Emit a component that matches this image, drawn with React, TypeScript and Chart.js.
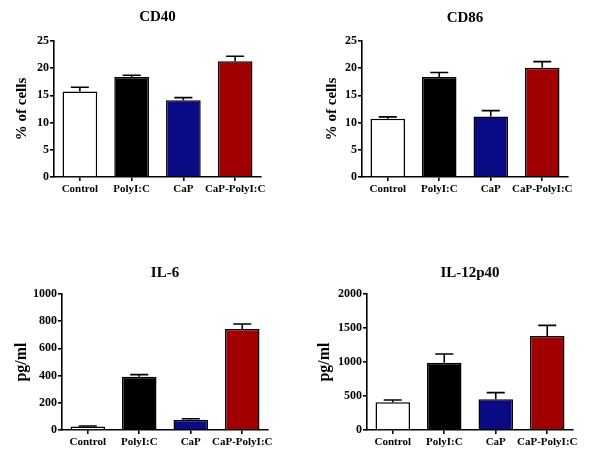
import React, { useEffect, useRef } from "react";
import { Chart, registerables } from "chart.js";

Chart.register(...registerables);

const categories = ["Control", "PolyI:C", "CaP", "CaP-PolyI:C"];
const barColors = ["#ffffff", "#000000", "#0a0a84", "#a00000"];

const cd40Values = [15.7, 18.4, 14.1, 21.3];
const cd40Errors = [0.8, 0.3, 0.5, 0.9];

const cd86Values = [10.7, 18.4, 11.1, 20.1];
const cd86Errors = [0.35, 0.8, 1.1, 1.1];

const il6Values = [25, 392, 76, 743];
const il6Errors = [4, 15, 7, 36];

const il12Values = [407, 990, 451, 1382];
const il12Errors = [34, 128, 98, 157];

const FONT = "'Liberation Serif', 'Times New Roman', serif";

type Panel = {
  title: string;
  yTitle: string;
  values: number[];
  errors: number[];
  max: number;
  step: number;
  left: number;
  top: number;
  yWidth: number;
  padRight: number;
  padTop: number;
  xHeight: number;
  titleY: number;
  yTitlePad: number;
  yTitleSize: number;
};

const panels: Panel[] = [
  { title: "CD40", yTitle: "% of cells", values: cd40Values, errors: cd40Errors, max: 25, step: 5,
    left: 0, top: 0, yWidth: 54, padRight: 43, padTop: 41, xHeight: 51, titleY: 17.5, yTitlePad: 13, yTitleSize: 15 },
  { title: "CD86", yTitle: "% of cells", values: cd86Values, errors: cd86Errors, max: 25, step: 5,
    left: 304, top: 0, yWidth: 58, padRight: 40, padTop: 41, xHeight: 51, titleY: 18, yTitlePad: 19, yTitleSize: 15 },
  { title: "IL-6", yTitle: "pg/ml", values: il6Values, errors: il6Errors, max: 1000, step: 200,
    left: 0, top: 228, yWidth: 62, padRight: 36, padTop: 66, xHeight: 26, titleY: 45, yTitlePad: 12.4, yTitleSize: 16 },
  { title: "IL-12p40", yTitle: "pg/ml", values: il12Values, errors: il12Errors, max: 2000, step: 500,
    left: 304, top: 228, yWidth: 63, padRight: 35, padTop: 66, xHeight: 26, titleY: 45, yTitlePad: 11.4, yTitleSize: 16 },
];

function PanelChart({ p }: { p: Panel }) {
  const ref = useRef<HTMLCanvasElement | null>(null);
  useEffect(() => {
    if (!ref.current) return;
    const extras = {
      id: "extras",
      afterDatasetsDraw(chart: any) {
        const ctx = chart.ctx;
        const meta = chart.getDatasetMeta(0);
        const yScale = chart.scales.y;
        ctx.save();
        ctx.strokeStyle = "#000";
        ctx.lineWidth = 1.6;
        meta.data.forEach((bar: any, i: number) => {
          const yTop = yScale.getPixelForValue(p.values[i] + p.errors[i]);
          ctx.beginPath();
          ctx.moveTo(bar.x, bar.y);
          ctx.lineTo(bar.x, yTop);
          ctx.moveTo(bar.x - 9, yTop);
          ctx.lineTo(bar.x + 9, yTop);
          ctx.stroke();
        });
        ctx.restore();
      },
      afterDraw(chart: any) {
        const ctx = chart.ctx;
        const a = chart.chartArea;
        ctx.save();
        ctx.fillStyle = "#000";
        ctx.font = `bold 15px ${FONT}`;
        ctx.textAlign = "center";
        ctx.textBaseline = "middle";
        ctx.fillText(p.title, (a.left + a.right) / 2, p.titleY);
        ctx.restore();
      },
    };
    const chart = new Chart(ref.current, {
      type: "bar",
      data: {
        labels: categories,
        datasets: [
          {
            data: p.values,
            backgroundColor: barColors,
            borderColor: "#000",
            borderWidth: 1.5,
            categoryPercentage: 1,
            barPercentage: 0.67,
          },
        ],
      },
      options: {
        animation: false,
        responsive: false,
        devicePixelRatio: 1,
        layout: { padding: { left: 0, right: p.padRight, top: p.padTop, bottom: 0 } },
        plugins: { legend: { display: false }, tooltip: { enabled: false }, title: { display: false } },
        scales: {
          x: {
            grid: { display: true, drawOnChartArea: false, drawTicks: true, tickLength: 4, offset: false, color: "#000", lineWidth: 1.6 },
            border: { display: true, color: "#000", width: 1.6 },
            ticks: { color: "#000", padding: 2, font: { family: FONT, size: 11, weight: "bold" }, maxRotation: 0, autoSkip: false },
            afterFit: (s: any) => { s.height = p.xHeight; },
          },
          y: {
            min: 0,
            max: p.max,
            ticks: {
              stepSize: p.step,
              color: "#000",
              padding: 1,
              font: { family: FONT, size: 12, weight: "bold" },
              callback: (v: any) => String(v),
            },
            grid: { display: true, drawOnChartArea: false, drawTicks: true, tickLength: 4, color: "#000", lineWidth: 1.6 },
            border: { display: true, color: "#000", width: 1.6 },
            title: {
              display: true,
              text: p.yTitle,
              color: "#000",
              padding: { top: p.yTitlePad, bottom: 0 },
              font: { family: FONT, size: p.yTitleSize, weight: "bold" },
            },
            afterFit: (s: any) => { s.width = p.yWidth; },
          },
        },
      } as any,
      plugins: [extras],
    });
    return () => chart.destroy();
  }, [p]);
  return (
    <canvas
      ref={ref}
      width={304}
      height={228}
      style={{ position: "absolute", left: p.left, top: p.top, width: 304, height: 228 }}
    />
  );
}

export default function App() {
  return (
    <div style={{ position: "absolute", left: 0, top: 0, width: 608, height: 456, background: "#fff" }}>
      {panels.map((p) => (
        <PanelChart key={p.title} p={p} />
      ))}
    </div>
  );
}
